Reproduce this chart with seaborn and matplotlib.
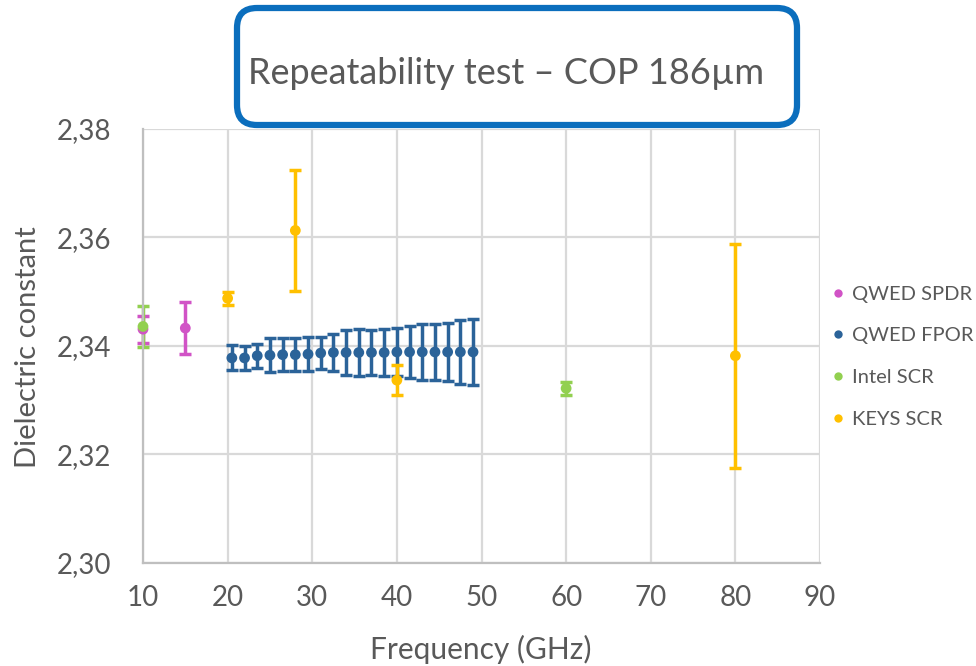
import numpy as np
import pandas as pd
import seaborn as sns
import matplotlib
matplotlib.use("Agg")
import matplotlib.pyplot as plt
from matplotlib.patches import FancyBboxPatch
from matplotlib.transforms import IdentityTransform

# Measured dielectric constant of COP 186 µm, repeated measurements per method
spdr_freq = [10, 15]
spdr_eps = [2.3431, 2.3433]
spdr_err = [0.0025, 0.0048]

fpor_freq = [20.5, 22, 23.5, 25, 26.5, 28, 29.5, 31, 32.5, 34,
             35.5, 37, 38.5, 40, 41.5, 43, 44.5, 46, 47.5, 49]
fpor_eps = [2.3378, 2.3378, 2.3382, 2.3383, 2.3384, 2.3384, 2.3385, 2.3387, 2.3388, 2.3388,
            2.3388, 2.3388, 2.3388, 2.3389, 2.3389, 2.3389, 2.3389, 2.3389, 2.3389, 2.3389]
fpor_err = [0.0023, 0.0022, 0.0022, 0.0031, 0.0031, 0.0031, 0.0032, 0.0030, 0.0035, 0.0042,
            0.0043, 0.0042, 0.0044, 0.0044, 0.0048, 0.0051, 0.0051, 0.0053, 0.0059, 0.0061]

intel_freq = [10, 60]
intel_eps = [2.3436, 2.3322]
intel_err = [0.0037, 0.0012]

keys_freq = [20, 28, 40, 80]
keys_eps = [2.3488, 2.3613, 2.3337, 2.3382]
keys_err = [0.0012, 0.0112, 0.0028, 0.0206]

series_names = ["QWED SPDR", "QWED FPOR", "Intel SCR", "KEYS SCR"]
colors = ["#D153C6", "#2B6399", "#92D050", "#FFC000"]

x_ticks = [10, 20, 30, 40, 50, 60, 70, 80, 90]
y_ticks = [2.30, 2.32, 2.34, 2.36, 2.38]

frames = []
for name, f, e, s in zip(series_names,
                         [spdr_freq, fpor_freq, intel_freq, keys_freq],
                         [spdr_eps, fpor_eps, intel_eps, keys_eps],
                         [spdr_err, fpor_err, intel_err, keys_err]):
    frames.append(pd.DataFrame({"freq": f, "eps": e, "err": s, "series": name}))
df = pd.concat(frames, ignore_index=True)
palette = dict(zip(series_names, colors))

sns.set_theme(style="white")
plt.rcParams["font.family"] = ["Lato", "DejaVu Sans"]

W, H = 976, 666
fig = plt.figure(figsize=(W / 100, H / 100), dpi=100)
ax = fig.add_axes([143 / W, 1 - 563 / H, (820 - 143) / W, (563 - 129) / H])

# error bars first, markers on top
for name in series_names:
    sub = df[df["series"] == name]
    eb = ax.errorbar(sub["freq"], sub["eps"], yerr=sub["err"], fmt="none",
                     ecolor=palette[name], elinewidth=2.5, capsize=4.4, capthick=2.5,
                     zorder=2)
    for art in eb.lines[1] + eb.lines[2]:
        art.set_clip_on(False)

sns.scatterplot(data=df, x="freq", y="eps", hue="series", hue_order=series_names,
                palette=palette, s=60, linewidth=0, ax=ax, zorder=3, legend=True,
                clip_on=False)

ax.set_xlim(10, 90)
ax.set_ylim(2.30, 2.38)
ax.set_xticks(x_ticks)
ax.set_yticks(y_ticks)
ax.set_yticklabels([f"{v:.2f}".replace(".", ",") for v in y_ticks])
ax.set_xticklabels([str(v) for v in x_ticks])
ax.tick_params(axis="both", length=0, labelsize=20, labelcolor="#595959")
ax.tick_params(axis="y", pad=23)
ax.tick_params(axis="x", pad=16)
ax.set_xlabel("")
ax.set_ylabel("")
ax.grid(True, color="#D9D9D9", linewidth=1.6)
ax.set_axisbelow(True)
for side in ["top", "right"]:
    ax.spines[side].set_visible(False)
for side in ["left", "bottom"]:
    ax.spines[side].set_color("#BFBFBF")
    ax.spines[side].set_linewidth(1.6)

fig.text(28 / W, 1 - 347 / H, "Dielectric constant", rotation=90,
         ha="center", va="center", fontsize=21, color="#595959")
fig.text(481 / W, 1 - 649 / H, "Frequency (GHz)",
         ha="center", va="center", fontsize=21.5, color="#595959")

# legend to the right of the plot area
handles, labels = ax.get_legend_handles_labels()
for h in handles:
    try:
        h.set_markersize(6)
    except AttributeError:
        pass
ax.legend(handles, labels, loc="center left",
          bbox_to_anchor=(831 / W, 1 - 356.5 / H), bbox_transform=fig.transFigure,
          frameon=False, fontsize=14.5, labelcolor="#595959",
          handlelength=0.7, handletextpad=0.35, labelspacing=1.22,
          borderpad=0, borderaxespad=0, markerscale=1.0)

# rounded title box
box = FancyBboxPatch((237, H - 125), 560, 117,
                     boxstyle="round,pad=0,rounding_size=20",
                     transform=IdentityTransform(), fill=False,
                     edgecolor="#0B6EBD", linewidth=4.5, zorder=5)
fig.patches.append(box)
fig.text(506 / W, 1 - 73 / H, "Repeatability test – COP 186µm",
         ha="center", va="center", fontsize=26, color="#595959")

fig.savefig("out.png", dpi=100)
